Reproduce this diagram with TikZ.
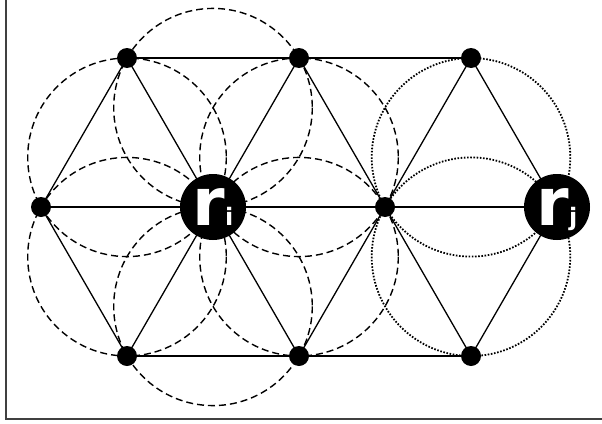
\documentclass[tikz,border=0pt]{standalone}
\usepackage{fontspec}
\setsansfont{DejaVu Sans}
\begin{document}
\begin{tikzpicture}[x=1pt,y=-1pt,
  dot/.style={circle,fill=black,inner sep=0pt,minimum size=20pt},
  robot/.style={circle,fill=black,inner sep=0pt,minimum size=66pt,text=white,font=\sffamily\bfseries},
  edge/.style={line width=1.3pt},
  dashcirc/.style={line width=1.4pt,dash pattern=on 7pt off 4pt},
  dotcirc/.style={line width=1.8pt,dash pattern=on 1.6pt off 1.6pt},
  frame/.style={line width=2pt,draw=black!75}]
\useasboundingbox (0,0) rectangle (602,423);
% partial frame: left and bottom sides
\coordinate (fTL) at (6,-2);
\coordinate (fBL) at (6,419);
\coordinate (fBR) at (604,419);
\draw[frame] (fTL) -- (fBL) -- (fBR);

% lattice positions
\coordinate (pa1) at (127,58);
\coordinate (pa2) at (299,58);
\coordinate (pa3) at (471,58);
\coordinate (pb0) at (41,207);
\coordinate (pri) at (213,207);
\coordinate (pb2) at (385,207);
\coordinate (prj) at (557,207);
\coordinate (pc1) at (127,356);
\coordinate (pc2) at (299,356);
\coordinate (pc3) at (471,356);

% circumcircles of the triangles around r_i (dashed) and r_j (dotted)
\def\rr{99.3}
\foreach \cx/\cy in {213/107.7,299/157.3,299/256.7,213/306.3,127/256.7,127/157.3}
  \draw[dashcirc] (\cx,\cy) circle[radius=\rr];
\foreach \cx/\cy in {471/157.3,471/256.7}
  \draw[dotcirc] (\cx,\cy) circle[radius=\rr];

% lattice edges
\draw[edge] (pa1) -- (pa2) -- (pa3);
\draw[edge] (pb0) -- (pri) -- (pb2) -- (prj);
\draw[edge] (pc1) -- (pc2) -- (pc3);
\draw[edge] (pb0) -- (pa1) -- (pri) -- (pa2) -- (pb2) -- (pa3) -- (prj);
\draw[edge] (pb0) -- (pc1) -- (pri) -- (pc2) -- (pb2) -- (pc3) -- (prj);

% nodes
\node[dot] (a1) at (pa1) {};
\node[dot] (a2) at (pa2) {};
\node[dot] (a3) at (pa3) {};
\node[dot] (b0) at (pb0) {};
\node[dot] (b2) at (pb2) {};
\node[dot] (c1) at (pc1) {};
\node[dot] (c2) at (pc2) {};
\node[dot] (c3) at (pc3) {};
\node[robot] (ri) at (pri) {\fontsize{66}{66}\selectfont r\raisebox{0pt}[0pt][0pt]{\fontsize{24}{24}\selectfont i}};
\node[robot] (rj) at (prj) {\fontsize{66}{66}\selectfont r\raisebox{0pt}[0pt][0pt]{\fontsize{24}{24}\selectfont j}};
\end{tikzpicture}
\end{document}
